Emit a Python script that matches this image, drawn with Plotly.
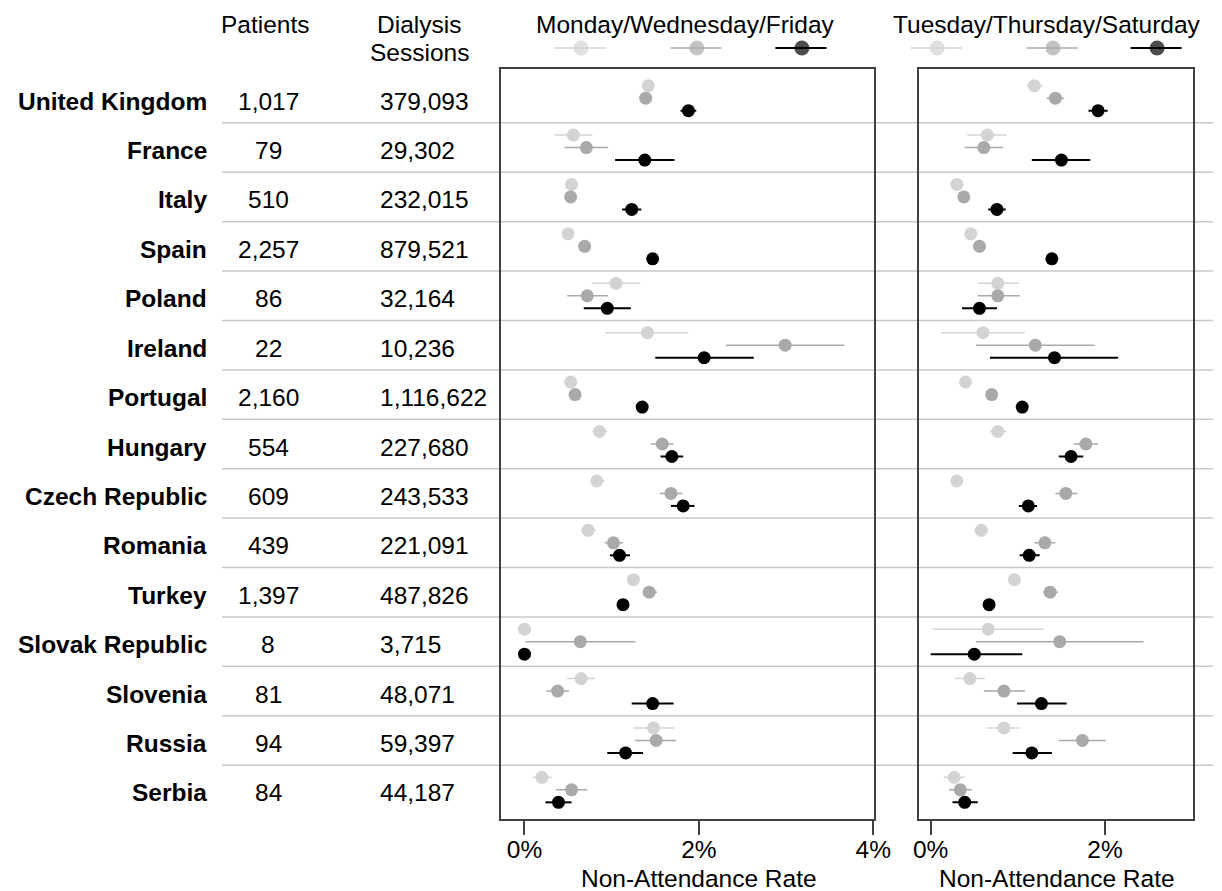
import numpy as np
import plotly.graph_objects as go

countries = ["United Kingdom", "France", "Italy", "Spain", "Poland", "Ireland", "Portugal",
             "Hungary", "Czech Republic", "Romania", "Turkey", "Slovak Republic", "Slovenia",
             "Russia", "Serbia"]
patients = ["1,017", "79", "510", "2,257", "86", "22", "2,160", "554", "609", "439", "1,397",
            "8", "81", "94", "84"]
sessions = ["379,093", "29,302", "232,015", "879,521", "32,164", "10,236", "1,116,622",
            "227,680", "243,533", "221,091", "487,826", "3,715", "48,071", "59,397", "44,187"]

# Monday/Wednesday/Friday (values in %)
mwf_light = [1.42, 0.56, 0.54, 0.50, 1.05, 1.41, 0.53, 0.86, 0.83, 0.73, 1.25, 0.00, 0.65, 1.48, 0.20]
mwf_light_lo = [1.36, 0.34, 0.48, 0.46, 0.77, 0.93, 0.49, 0.78, 0.75, 0.65, 1.19, 0.00, 0.49, 1.25, 0.09]
mwf_light_hi = [1.48, 0.78, 0.60, 0.54, 1.33, 1.88, 0.57, 0.95, 0.92, 0.82, 1.31, 0.00, 0.81, 1.72, 0.31]

mwf_mid = [1.39, 0.71, 0.53, 0.69, 0.72, 2.99, 0.58, 1.58, 1.68, 1.02, 1.43, 0.64, 0.38, 1.51, 0.54]
mwf_mid_lo = [1.32, 0.46, 0.47, 0.65, 0.49, 2.31, 0.54, 1.45, 1.55, 0.92, 1.36, 0.01, 0.25, 1.27, 0.36]
mwf_mid_hi = [1.46, 0.96, 0.59, 0.73, 0.96, 3.67, 0.62, 1.71, 1.81, 1.13, 1.52, 1.27, 0.51, 1.74, 0.72]

mwf_dark = [1.88, 1.38, 1.23, 1.47, 0.95, 2.06, 1.35, 1.69, 1.82, 1.09, 1.13, 0.00, 1.47, 1.16, 0.39]
mwf_dark_lo = [1.79, 1.04, 1.12, 1.42, 0.68, 1.50, 1.31, 1.56, 1.68, 0.98, 1.07, 0.00, 1.23, 0.95, 0.24]
mwf_dark_hi = [1.97, 1.72, 1.34, 1.52, 1.22, 2.63, 1.39, 1.82, 1.95, 1.21, 1.19, 0.00, 1.71, 1.36, 0.54]

# Tuesday/Thursday/Saturday (values in %)
tts_light = [1.19, 0.65, 0.30, 0.46, 0.77, 0.60, 0.40, 0.77, 0.30, 0.58, 0.96, 0.66, 0.45, 0.84, 0.27]
tts_light_lo = [1.10, 0.42, 0.26, 0.42, 0.54, 0.12, 0.37, 0.68, 0.26, 0.50, 0.90, 0.02, 0.28, 0.65, 0.15]
tts_light_hi = [1.28, 0.87, 0.34, 0.50, 1.01, 1.08, 0.43, 0.87, 0.34, 0.66, 1.02, 1.30, 0.62, 1.02, 0.39]

tts_mid = [1.43, 0.61, 0.38, 0.56, 0.77, 1.20, 0.70, 1.78, 1.55, 1.31, 1.37, 1.48, 0.84, 1.74, 0.34]
tts_mid_lo = [1.33, 0.39, 0.34, 0.52, 0.54, 0.52, 0.66, 1.64, 1.43, 1.19, 1.29, 0.52, 0.61, 1.47, 0.21]
tts_mid_hi = [1.53, 0.83, 0.42, 0.60, 1.02, 1.88, 0.74, 1.92, 1.68, 1.43, 1.46, 2.44, 1.08, 2.01, 0.47]

tts_dark = [1.92, 1.50, 0.76, 1.39, 0.56, 1.42, 1.05, 1.61, 1.12, 1.13, 0.67, 0.50, 1.27, 1.16, 0.39]
tts_dark_lo = [1.81, 1.16, 0.66, 1.34, 0.36, 0.68, 1.01, 1.47, 1.01, 1.02, 0.63, 0.00, 0.99, 0.94, 0.25]
tts_dark_hi = [2.03, 1.83, 0.86, 1.44, 0.76, 2.15, 1.09, 1.75, 1.22, 1.25, 0.71, 1.05, 1.56, 1.39, 0.54]

mwf_ticks = [0, 2, 4]
tts_ticks = [0, 2]

W, H = 1222, 891
OX, OY = 8, 8          # default page (body) margin of the written html
FONT = "Liberation Sans, Arial, sans-serif"
FS = 24.5
C_LIGHT, C_MID, C_DARK = "#d3d3d3", "#a9a9a9", "#000000"
BOX = "#404040"

def px(x):   # screen x pixel -> paper x
    return (x - OX) / W

def py(y):   # screen y pixel -> paper y
    return 1 - (y - OY) / H

rows = np.arange(len(countries))
OFF = 0.253

fig = go.Figure()

def add_series(vals, lo, hi, color, offset, xa, ya, thick):
    v = np.array(vals)
    fig.add_trace(go.Scatter(
        x=v, y=rows + offset, mode="markers",
        marker=dict(color=color, size=13, line=dict(width=0)),
        error_x=dict(type="data", symmetric=False,
                     array=np.array(hi) - v, arrayminus=v - np.array(lo),
                     color=color, thickness=thick, width=0),
        xaxis=xa, yaxis=ya, showlegend=False, hoverinfo="x"))

add_series(mwf_light, mwf_light_lo, mwf_light_hi, C_LIGHT, -OFF, "x", "y", 1.5)
add_series(mwf_mid, mwf_mid_lo, mwf_mid_hi, C_MID, 0, "x", "y", 1.5)
add_series(mwf_dark, mwf_dark_lo, mwf_dark_hi, C_DARK, OFF, "x", "y", 2)
add_series(tts_light, tts_light_lo, tts_light_hi, C_LIGHT, -OFF, "x2", "y2", 1.5)
add_series(tts_mid, tts_mid_lo, tts_mid_hi, C_MID, 0, "x2", "y2", 1.5)
add_series(tts_dark, tts_dark_lo, tts_dark_hi, C_DARK, OFF, "x2", "y2", 2)

# legend keys (screen pixel overlay)
legend_keys = [(586, C_LIGHT, 1.5), (704, C_MID, 1.5), (811, C_DARK, 2),
               (949, C_LIGHT, 1.5), (1067, C_MID, 1.5), (1173, C_DARK, 2)]
for cx, col, th in legend_keys:
    fig.add_trace(go.Scatter(x=[cx - 27, cx, cx + 25], y=[48, 48, 48], mode="lines+markers",
                             line=dict(color=col, width=th),
                             marker=dict(size=[0, 15, 0], color=col, line=dict(width=0)),
                             xaxis="x3", yaxis="y3", showlegend=False, hoverinfo="skip"))

shapes = []
for i in range(len(countries) - 1):
    shapes.append(dict(type="line", xref="paper", yref="y", x0=px(220), x1=1.0,
                       y0=i + 0.5, y1=i + 0.5, line=dict(color="#c8c8c8", width=1.5),
                       layer="below"))

ann = []
def txt(x, y, s, bold=False, xanchor="center", yref="paper", yshift=0):
    ann.append(dict(x=x, y=y, xref="paper", yref=yref, text=("<b>%s</b>" % s) if bold else s,
                    showarrow=False, xanchor=xanchor, yanchor="middle", yshift=yshift,
                    font=dict(family=FONT, size=FS, color="black")))

for i, c in enumerate(countries):
    txt(px(207), i, c, bold=True, xanchor="right", yref="y", yshift=-3)
    txt(px(267), i, patients[i], yref="y", yshift=-3)
    txt(px(379), i, sessions[i], xanchor="left", yref="y", yshift=-3)

txt(px(264), py(24), "Patients")
txt(px(421), py(24), "Dialysis")
txt(px(421), py(53), "Sessions")
txt(px(692), py(24), "Monday/Wednesday/Friday")
txt(px(1061), py(24), "Tuesday/Thursday/Saturday")
txt(px(706), py(878), "Non-Attendance Rate")
txt(px(1071), py(878), "Non-Attendance Rate")

ydom = [py(819), py(69)]
yrange = [len(countries) - 1 + 0.59, -0.59]
axis_common = dict(showline=True, mirror=True, linecolor=BOX, linewidth=1.5,
                   showgrid=False, zeroline=False, fixedrange=True)
xcommon = dict(axis_common, ticks="outside", ticklen=14, tickwidth=1.5, tickcolor=BOX,
               tickmode="array", ticklabelstandoff=-6,
               tickfont=dict(family=FONT, size=FS, color="black"))

fig.update_layout(
    width=W, height=H, autosize=False, margin=dict(l=0, r=0, t=0, b=0),
    paper_bgcolor="white", plot_bgcolor="rgba(0,0,0,0)",
    xaxis=dict(xcommon, domain=[px(504), px(884)], range=[-0.273, 4.003],
               tickvals=mwf_ticks, ticktext=["%d%%" % t for t in mwf_ticks], anchor="y"),
    yaxis=dict(axis_common, domain=ydom, range=yrange, showticklabels=False, ticks="",
               anchor="x"),
    xaxis2=dict(xcommon, domain=[px(930.7), px(1210)], range=[-0.13, 3.013],
                tickvals=tts_ticks, ticktext=["%d%%" % t for t in tts_ticks], anchor="y2"),
    yaxis2=dict(axis_common, domain=ydom, range=yrange, showticklabels=False, ticks="",
                anchor="x2"),
    xaxis3=dict(domain=[0, 1], range=[OX, W + OX], visible=False, fixedrange=True, anchor="y3"),
    yaxis3=dict(domain=[0, 1], range=[H + OY, OY], visible=False, fixedrange=True, anchor="x3"),
    shapes=shapes, annotations=ann, showlegend=False,
)

fig.write_html("out.html", config={"responsive": False, "displayModeBar": False})
